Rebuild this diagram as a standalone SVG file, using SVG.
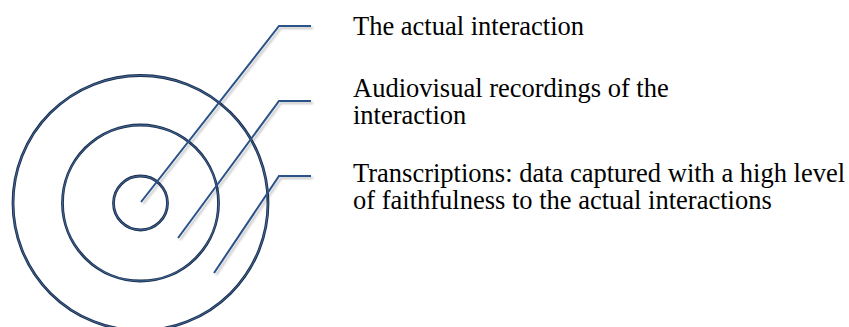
<svg xmlns="http://www.w3.org/2000/svg" width="849" height="327" viewBox="0 0 849 327">
<defs>
<filter id="sh" x="-20%" y="-20%" width="140%" height="140%">
<feGaussianBlur in="SourceAlpha" stdDeviation="1.2"/>
<feOffset dx="1.5" dy="2" result="b"/>
<feComponentTransfer><feFuncA type="linear" slope="0.25"/></feComponentTransfer>
<feMerge><feMergeNode/><feMergeNode in="SourceGraphic"/></feMerge>
</filter>
</defs>
<style>
.ring{fill:none;stroke:#1a3050;stroke-width:2.8}
.ring2{fill:none;stroke:#4f75a6;stroke-width:0.8}
.lead{fill:none;stroke:#2b5288;stroke-width:2;stroke-linejoin:miter}
.lbl{font-family:"Liberation Serif","Times New Roman",serif;font-size:26.5px;fill:#000}
</style>
<rect width="849" height="327" fill="#fff"/>
<g id="outer-circle"><circle class="ring" cx="140.5" cy="203" r="127.5"/><circle class="ring2" cx="140.5" cy="203" r="127.5"/></g>
<g id="middle-circle"><circle class="ring" cx="140.5" cy="203" r="78"/><circle class="ring2" cx="140.5" cy="203" r="78"/></g>
<g id="inner-circle"><circle class="ring" cx="140.5" cy="203" r="27"/><circle class="ring2" cx="140.5" cy="203" r="27"/></g>
<g id="connectors" filter="url(#sh)">
<polyline class="lead" points="141,202 279,26 311,26"/>
<polyline class="lead" points="178,238 279,101 311,101"/>
<polyline class="lead" points="214,273 279,176 311,176"/>
</g>
<g id="label-interaction"><text class="lbl" x="353" y="35">The actual interaction</text></g>
<g id="label-recordings"><text class="lbl" x="353" y="97">Audiovisual recordings of the</text><text class="lbl" x="353" y="123.5">interaction</text></g>
<g id="label-transcriptions"><text class="lbl" x="353" y="182">Transcriptions: data captured with a high level</text><text class="lbl" x="353" y="208.5">of faithfulness to the actual interactions</text></g>
</svg>
